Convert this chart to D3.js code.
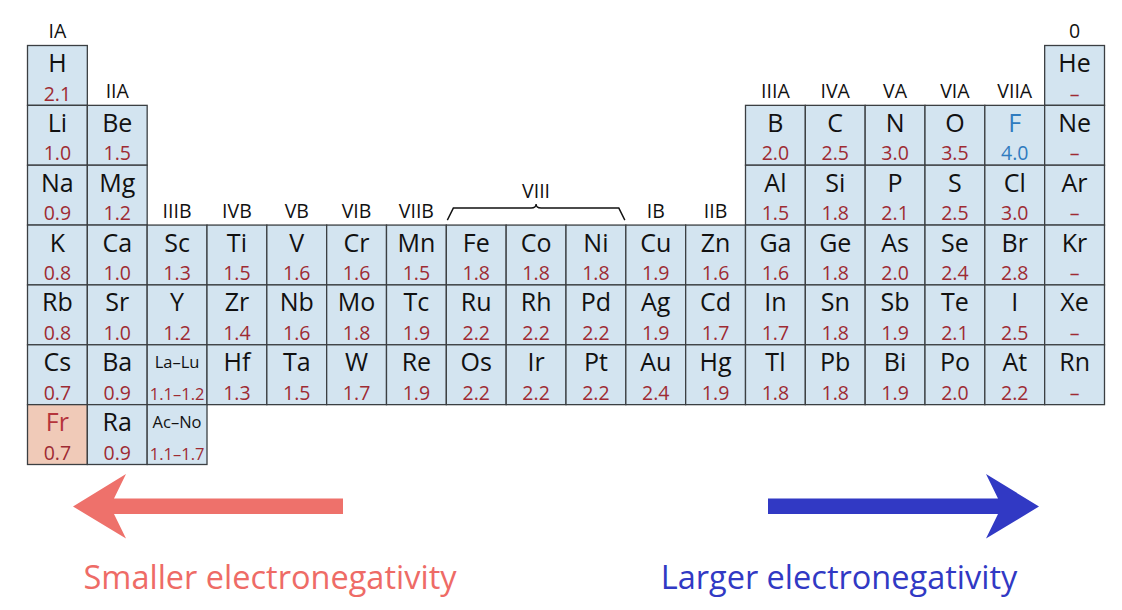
<!DOCTYPE html>
<html>
<head>
<meta charset="utf-8">
<script src="https://cdn.jsdelivr.net/npm/d3@7"></script>
<style>
  body { margin: 0; background: #fff; }
  svg { display: block; font-family: "Open Sans", "Noto Sans", sans-serif; }
</style>
</head>
<body>
<div id="chart"></div>
<script>
// element symbols, electronegativity labels, group (column) and period (row)
var symbols = ["H","He",
  "Li","Be","B","C","N","O","F","Ne",
  "Na","Mg","Al","Si","P","S","Cl","Ar",
  "K","Ca","Sc","Ti","V","Cr","Mn","Fe","Co","Ni","Cu","Zn","Ga","Ge","As","Se","Br","Kr",
  "Rb","Sr","Y","Zr","Nb","Mo","Tc","Ru","Rh","Pd","Ag","Cd","In","Sn","Sb","Te","I","Xe",
  "Cs","Ba","La–Lu","Hf","Ta","W","Re","Os","Ir","Pt","Au","Hg","Tl","Pb","Bi","Po","At","Rn",
  "Fr","Ra","Ac–No"];
var enValues = ["2.1","–",
  "1.0","1.5","2.0","2.5","3.0","3.5","4.0","–",
  "0.9","1.2","1.5","1.8","2.1","2.5","3.0","–",
  "0.8","1.0","1.3","1.5","1.6","1.6","1.5","1.8","1.8","1.8","1.9","1.6","1.6","1.8","2.0","2.4","2.8","–",
  "0.8","1.0","1.2","1.4","1.6","1.8","1.9","2.2","2.2","2.2","1.9","1.7","1.7","1.8","1.9","2.1","2.5","–",
  "0.7","0.9","1.1–1.2","1.3","1.5","1.7","1.9","2.2","2.2","2.2","2.4","1.9","1.8","1.8","1.9","2.0","2.2","–",
  "0.7","0.9","1.1–1.7"];
var groups = [1,18,
  1,2,13,14,15,16,17,18,
  1,2,13,14,15,16,17,18,
  1,2,3,4,5,6,7,8,9,10,11,12,13,14,15,16,17,18,
  1,2,3,4,5,6,7,8,9,10,11,12,13,14,15,16,17,18,
  1,2,3,4,5,6,7,8,9,10,11,12,13,14,15,16,17,18,
  1,2,3];
var periods = [1,1,
  2,2,2,2,2,2,2,2,
  3,3,3,3,3,3,3,3,
  4,4,4,4,4,4,4,4,4,4,4,4,4,4,4,4,4,4,
  5,5,5,5,5,5,5,5,5,5,5,5,5,5,5,5,5,5,
  6,6,6,6,6,6,6,6,6,6,6,6,6,6,6,6,6,6,
  7,7,7];
var groupLabels = ["IA","IIA","IIIB","IVB","VB","VIB","VIIB","VIII","VIII","VIII",
  "IB","IIB","IIIA","IVA","VA","VIA","VIIA","0"];
var trendLabels = ["Smaller electronegativity", "Larger electronegativity"];

var width = 1122, height = 610;

var cells = symbols.map(function(s, i) {
  return { sym: s, en: enValues[i], group: groups[i], period: periods[i] };
});

var x = d3.scaleBand().domain(d3.range(1, 19)).range([27.5, 1104.5]);
var y = d3.scaleBand().domain(d3.range(1, 8)).range([45.5, 464.5]);

var svg = d3.select("#chart").append("svg")
  .attr("width", width)
  .attr("height", height);

var cell = svg.selectAll("g.cell")
  .data(cells)
  .enter().append("g")
  .attr("class", "cell")
  .attr("transform", function(d) { return "translate(" + x(d.group) + "," + y(d.period) + ")"; });

cell.append("rect")
  .attr("width", x.bandwidth())
  .attr("height", y.bandwidth())
  .attr("fill", function(d) { return d.sym == "Fr" ? "#f0cab8" : "#d3e4f0"; })
  .attr("stroke", "#3b3f42")
  .attr("stroke-width", 1.3);

var isSeries = function(d) { return d.sym.indexOf("–") > 0; };

cell.append("text")
  .attr("x", x.bandwidth() / 2)
  .attr("y", function(d) { return isSeries(d) ? 23 : 26.5; })
  .attr("text-anchor", "middle")
  .style("font-size", function(d) { return isSeries(d) ? "16.5px" : "25px"; })
  .attr("fill", function(d) {
    if (d.sym == "F") return "#2f7bbf";
    if (d.sym == "Fr") return "#b5343b";
    return "#111";
  })
  .text(function(d) { return d.sym; });

cell.append("text")
  .attr("x", x.bandwidth() / 2)
  .attr("y", 55)
  .attr("text-anchor", "middle")
  .style("font-size", function(d) { return isSeries(d) ? "16.5px" : "19.5px"; })
  .attr("fill", function(d) { return d.sym == "F" ? "#2f7bbf" : "#9e2b33"; })
  .text(function(d) { return d.en; });

// group labels above the top cell of each column
var labelData = groupLabels.map(function(l, i) {
  var g = i + 1;
  var top = d3.min(cells.filter(function(c) { return c.group == g; }), function(c) { return c.period; });
  return { label: l, group: g, top: top };
}).filter(function(d) { return d.label != "VIII"; });

svg.selectAll("text.glabel")
  .data(labelData)
  .enter().append("text")
  .attr("class", "glabel")
  .attr("x", function(d) { return x(d.group) + x.bandwidth() / 2; })
  .attr("y", function(d) { return y(d.top) - 7.5; })
  .attr("text-anchor", "middle")
  .style("font-size", "19.5px")
  .attr("fill", "#111")
  .text(function(d) { return d.label; });

// VIII bracket over groups 8-10
var bx0 = x(8), bx1 = x(10) + x.bandwidth(), bmid = (bx0 + bx1) / 2;
var by = y(4) - 17;
svg.append("path")
  .attr("d", "M" + (bx0 + 1) + "," + (by + 12) +
    " L" + (bx0 + 7) + "," + by +
    " L" + (bmid - 5) + "," + by +
    " Q" + bmid + "," + by + " " + bmid + "," + (by - 4) +
    " Q" + bmid + "," + by + " " + (bmid + 5) + "," + by +
    " L" + (bx1 - 7) + "," + by +
    " L" + (bx1 - 1) + "," + (by + 12))
  .attr("fill", "none")
  .attr("stroke", "#111")
  .attr("stroke-width", 1.4);

svg.append("text")
  .attr("x", bmid)
  .attr("y", by - 10)
  .attr("text-anchor", "middle")
  .style("font-size", "19.5px")
  .attr("fill", "#111")
  .text("VIII");

// trend arrows
var arrow = function(tail, tip, yc) {
  var dir = tip > tail ? 1 : -1;
  var pts = [
    [tip, yc],
    [tip - dir * 53, yc - 32.5],
    [tip - dir * 41, yc - 8],
    [tail, yc - 8],
    [tail, yc + 7.5],
    [tip - dir * 41, yc + 7.5],
    [tip - dir * 53, yc + 32]
  ];
  return d3.line()(pts) + "Z";
};

svg.append("path")
  .attr("d", arrow(343, 73, 506.5))
  .attr("fill", "#ee716b");

svg.append("path")
  .attr("d", arrow(768, 1039, 506.5))
  .attr("fill", "#3139c4");

svg.append("text")
  .attr("x", 270)
  .attr("y", 589)
  .attr("text-anchor", "middle")
  .style("font-size", "32.5px")
  .attr("fill", "#ee6b66")
  .text(trendLabels[0]);

svg.append("text")
  .attr("x", 839)
  .attr("y", 589)
  .attr("text-anchor", "middle")
  .style("font-size", "32.5px")
  .attr("fill", "#3139c4")
  .text(trendLabels[1]);
</script>
</body>
</html>
